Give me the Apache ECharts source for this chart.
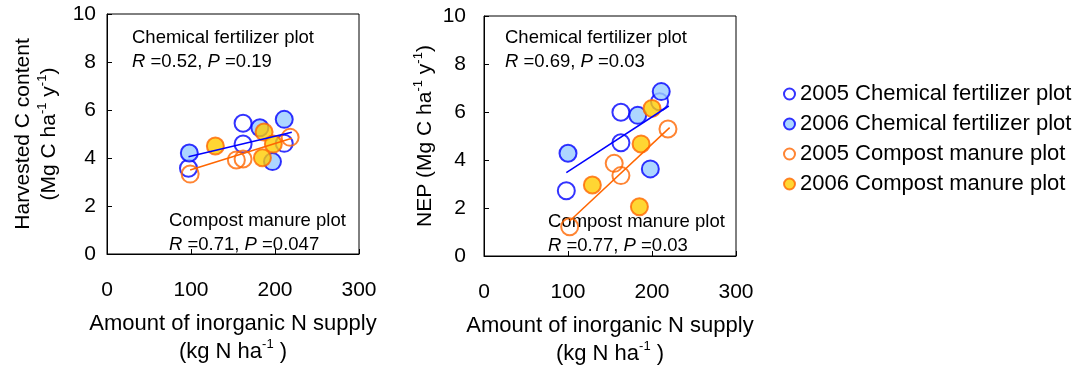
<!DOCTYPE html>
<html>
<head>
<meta charset="utf-8">
<script src="https://cdn.jsdelivr.net/npm/echarts@6/dist/echarts.min.js"></script>
<style>
  html, body { margin: 0; padding: 0; background: #fff; }
  #chart { width: 1078px; height: 367px; }
</style>
</head>
<body>
<div id="chart"></div>
<script>
// [N supply (kg N/ha), value (Mg C/ha/y)]
const harvestCF2005 = [[162, 5.45], [162, 4.58], [97, 3.57], [211, 4.61]]
const harvestCF2006 = [[98, 4.21], [182, 5.26], [211, 5.61], [197, 3.85]]
const harvestCM2005 = [[99, 3.33], [154, 3.92], [162, 3.96], [218, 4.86]]
const harvestCM2006 = [[129, 4.5], [187, 5.08], [198, 4.58], [185, 4.01]]
const harvestFitCF = [[97, 4.05], [220, 5.07]]
const harvestFitCM = [[99, 3.5], [220, 4.82]]

const nepCF2005 = [[163, 5.99], [163, 4.72], [98, 2.72], [209, 6.43]]
const nepCF2006 = [[100, 4.28], [183, 5.86], [211, 6.85], [198, 3.63]]
const nepCM2005 = [[155, 3.86], [163, 3.35], [219, 5.29], [102, 1.22]]
const nepCM2006 = [[129, 2.96], [200, 6.15], [187, 4.67], [185, 2.05]]
const nepFitCF = [[98, 3.47], [220, 6.25]]
const nepFitCM = [[102, 1.46], [221, 5.35]]

const seriesNames = [
  '2005 Chemical fertilizer plot',
  '2006 Chemical fertilizer plot',
  '2005 Compost manure plot',
  '2006 Compost manure plot',
]
const xTicks = { min: 0, max: 300, interval: 100 }
const yTicks = { min: 0, max: 10, interval: 2 }

const font = '"Liberation Sans", Arial, sans-serif'
const blue = '#0000ff'
const orange = '#ff6600'

const markerStyles = [
  { color: 'rgba(255,255,255,0)', borderColor: blue, borderWidth: 2 },
  { color: '#99ccff', borderColor: blue, borderWidth: 2 },
  { color: 'rgba(255,255,255,0)', borderColor: orange, borderWidth: 2 },
  { color: '#ffcc00', borderColor: orange, borderWidth: 2 },
]

const supRich = {
  sup: { fontSize: 13, verticalAlign: 'top', lineHeight: 18, fontFamily: font, color: '#000' },
}

function xAxis(gridIndex) {
  return {
    type: 'value',
    gridIndex,
    ...xTicks,
    name: 'Amount of inorganic N supply\n(kg N ha{sup|-1} )',
    nameLocation: 'middle',
    nameGap: 56,
    nameTextStyle: { fontSize: 22, fontFamily: font, color: '#000', lineHeight: 28, rich: supRich },
    axisLine: { lineStyle: { color: '#000', width: 1 } },
    axisTick: { inside: true, length: 5, lineStyle: { color: '#000' } },
    axisLabel: { fontSize: 21, fontFamily: font, color: '#000', margin: 26, showMaxLabel: true },
    splitLine: { show: false },
  }
}

function yAxis(gridIndex, name, gap, labelMargin) {
  return {
    type: 'value',
    gridIndex,
    ...yTicks,
    name,
    nameLocation: 'middle',
    nameGap: gap,
    nameTextStyle: { fontSize: 21, fontFamily: font, color: '#000', lineHeight: 26, rich: supRich },
    axisLine: { lineStyle: { color: '#000', width: 1 } },
    axisTick: { inside: true, length: 5, lineStyle: { color: '#000' } },
    axisLabel: { fontSize: 21, fontFamily: font, color: '#000', margin: labelMargin },
    splitLine: { show: false },
  }
}

function scatter(i, data, gridIndex) {
  return {
    name: seriesNames[i],
    type: 'scatter',
    xAxisIndex: gridIndex,
    yAxisIndex: gridIndex,
    data,
    symbol: 'circle',
    symbolSize: 17,
    itemStyle: markerStyles[i],
  }
}

function fitLine(data, color, gridIndex) {
  return {
    type: 'line',
    xAxisIndex: gridIndex,
    yAxisIndex: gridIndex,
    data,
    symbol: 'none',
    silent: true,
    lineStyle: { color, width: 1.5 },
    z: 3,
  }
}

function note(left, top, title, stats) {
  return [
    { type: 'text', left, top, style: { text: title, font: `18.5px ${font}`, fill: '#000' } },
    {
      type: 'text',
      left,
      top: top + 24,
      style: {
        text: stats,
        font: `18.5px ${font}`,
        fill: '#000',
        rich: { i: { fontStyle: 'italic', fontSize: 18.5, fontFamily: font } },
      },
    },
  ]
}

const chart = echarts.init(document.getElementById('chart'))

chart.setOption({
  animation: false,
  backgroundColor: '#fff',
  textStyle: { fontFamily: font },
  grid: [
    { left: 107, top: 14, width: 252, height: 240, outerBoundsMode: 'none', show: true, borderColor: '#000', borderWidth: 1 },
    { left: 484, top: 16, width: 252, height: 240, outerBoundsMode: 'none', show: true, borderColor: '#000', borderWidth: 1 },
  ],
  xAxis: [xAxis(0), xAxis(1)],
  yAxis: [
    yAxis(0, 'Harvested C content\n(Mg C ha{sup|-1} y{sup|-1})', 45, 11),
    yAxis(1, 'NEP (Mg C ha{sup|-1} y{sup|-1})', 46, 18),
  ],
  legend: {
    data: seriesNames,
    orient: 'vertical',
    left: 778,
    top: 78,
    icon: 'circle',
    itemWidth: 11,
    itemHeight: 11,
    itemGap: 8,
    textStyle: { fontSize: 22, fontFamily: font, color: '#000' },
  },
  graphic: [
    ...note(132, 28, 'Chemical fertilizer plot', '{i|R} =0.52, {i|P} =0.19'),
    ...note(169, 211, 'Compost manure plot', '{i|R} =0.71, {i|P} =0.047'),
    ...note(505, 28, 'Chemical fertilizer plot', '{i|R} =0.69, {i|P} =0.03'),
    ...note(548, 212, 'Compost manure plot', '{i|R} =0.77, {i|P} =0.03'),
  ],
  series: [
    scatter(0, harvestCF2005, 0),
    scatter(1, harvestCF2006, 0),
    scatter(2, harvestCM2005, 0),
    scatter(3, harvestCM2006, 0),
    fitLine(harvestFitCF, blue, 0),
    fitLine(harvestFitCM, orange, 0),
    scatter(0, nepCF2005, 1),
    scatter(1, nepCF2006, 1),
    scatter(2, nepCM2005, 1),
    scatter(3, nepCM2006, 1),
    fitLine(nepFitCF, blue, 1),
    fitLine(nepFitCM, orange, 1),
  ],
})
</script>
</body>
</html>
